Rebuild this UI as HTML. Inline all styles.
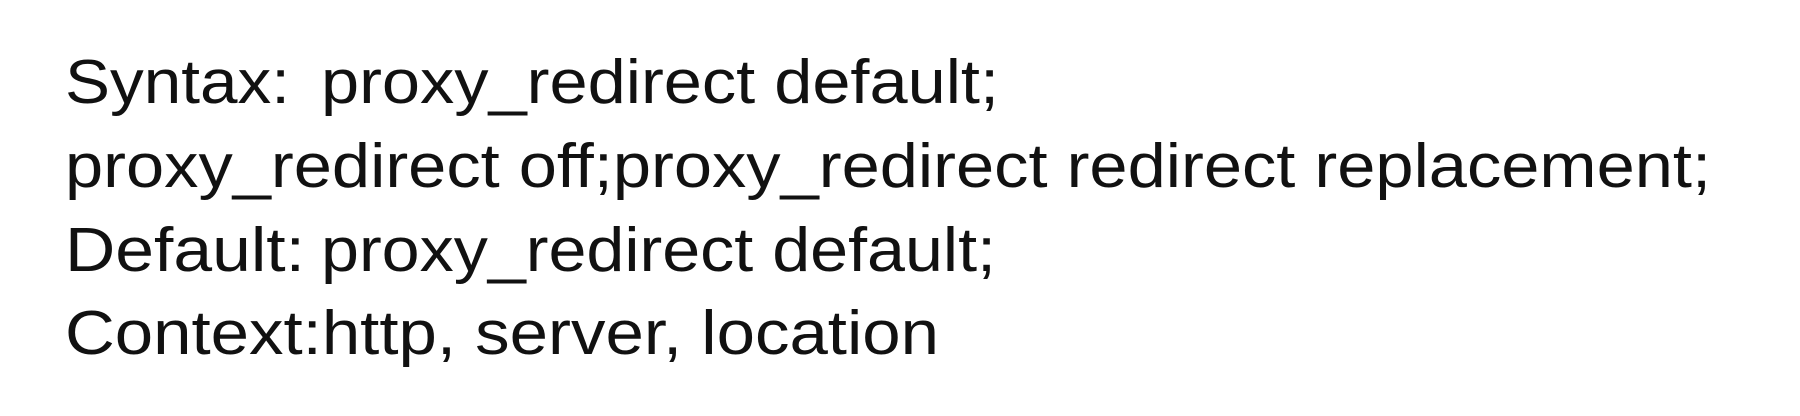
<!DOCTYPE html>
<html><head><meta charset="utf-8"><style>
html,body{margin:0;padding:0;background:#fff;width:1800px;height:416px;overflow:hidden}
text{font-family:"Liberation Sans",sans-serif;font-size:62px;fill:#111}
</style></head><body>
<svg width="1800" height="416" xmlns="http://www.w3.org/2000/svg">
<rect width="1800" height="416" fill="#fff"/>
<text x="65" y="103" textLength="225" lengthAdjust="spacingAndGlyphs">Syntax:</text>
<text x="321" y="103" textLength="678" lengthAdjust="spacingAndGlyphs">proxy_redirect default;</text>
<text x="65" y="187" textLength="1646" lengthAdjust="spacingAndGlyphs">proxy_redirect off;proxy_redirect redirect replacement;</text>
<text x="65" y="271" textLength="240" lengthAdjust="spacingAndGlyphs">Default:</text>
<text x="321" y="271" textLength="675" lengthAdjust="spacingAndGlyphs">proxy_redirect default;</text>
<text x="65" y="354" textLength="874" lengthAdjust="spacingAndGlyphs">Context:http, server, location</text>
</svg>
</body></html>
